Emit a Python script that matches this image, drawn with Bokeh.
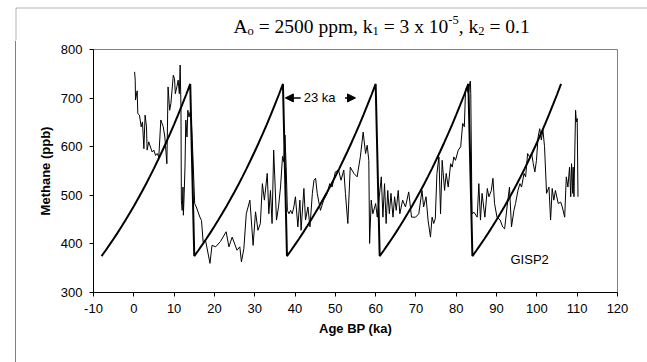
from bokeh.plotting import figure
from bokeh.layouts import column, row
from bokeh.models import Label, Arrow, NormalHead, FixedTicker, PolyAnnotation, Range1d, Span
from bokeh.embed import file_html
from bokeh.resources import INLINE

# GISP2 methane record (age in ka BP, CH4 in ppb)
age = [0.2, 0.35, 0.42, 0.83, 1.0, 1.4, 1.83, 2.15, 2.5, 2.8, 3.15, 3.3, 3.7, 4.55, 4.97,
       5.4, 5.8, 6.2, 6.7, 7.3, 7.7, 8.2, 8.5, 8.9, 9.2, 9.8, 10.1, 10.3, 10.7, 11.0,
       11.3, 11.5, 11.7, 11.8, 12.0, 12.2, 12.3, 12.5, 12.7, 12.9, 13.2, 13.4, 13.7, 14.0,
       14.3, 14.6, 15.1, 15.5, 16.4, 16.8, 17.2, 17.8, 18.9, 19.4, 20.3, 21.5, 22.9, 23.6,
       24.4, 25.6, 26.3, 26.7, 27.3, 27.9, 28.8, 29.6, 30.2, 30.8, 31.4, 31.9, 32.4, 33.1,
       33.5, 33.9, 34.3, 34.7, 35.4, 35.9, 36.4, 36.9, 37.2, 37.5, 37.8, 38.1, 38.5, 38.9,
       39.3, 39.7, 40.1, 40.7, 41.2, 41.5, 42.2, 42.6, 43.2, 43.7, 44.3, 44.7, 45.1, 45.5,
       46.3, 47.1, 48.0, 48.6, 49.2, 50.0, 50.8, 51.4, 52.1, 52.5, 53.1, 53.7, 54.6, 55.4,
       56.2, 56.9, 57.5, 57.9, 58.3, 58.5, 58.9, 59.3, 60.0, 60.4, 60.9, 61.4, 61.8, 62.2,
       62.6, 63.0, 63.4, 63.8, 64.3, 64.7, 65.1, 65.6, 66.0, 66.7, 67.4, 68.2, 68.9, 69.9,
       70.7, 71.5, 71.9, 72.5, 73.0, 73.6, 74.0, 74.4, 74.8, 75.2, 75.7, 76.1, 76.5, 77.1,
       77.5, 78.0, 78.6, 79.0, 79.4, 79.8, 80.5, 81.1, 81.6, 82.0, 82.3, 82.6, 83.0, 83.3,
       83.5, 83.6, 83.9, 84.4, 85.2, 85.6, 86.0, 86.4, 87.1, 87.7, 88.1, 88.7, 89.1, 89.5,
       90.1, 90.9, 91.5, 92.0, 92.6, 93.2, 93.7, 94.3, 94.7, 95.3, 95.8, 96.2, 96.8, 97.2,
       97.7, 98.2, 98.7, 99.1, 99.5, 99.9, 100.3, 100.7, 101.1, 101.5, 101.9, 102.4, 103.0,
       103.4, 103.8, 104.2, 104.6, 105.3, 105.9, 106.3, 106.9, 107.3, 107.7, 108.1, 108.4,
       108.6, 108.9, 109.0, 109.2, 109.6, 109.8, 110.0, 110.2]
methane = [754, 737, 696, 715, 668, 665, 641, 651, 596, 665, 641, 593, 610, 589, 593,
           582, 586, 579, 655, 641, 620, 565, 723, 675, 689, 747, 740, 709, 724, 737,
           709, 768, 682, 490, 469, 517, 459, 504, 558, 655, 620, 675, 661, 672,
           648, 593, 483, 476, 455, 448, 404, 407, 360, 397, 394, 405, 425, 394,
           414, 387, 394, 363, 390, 462, 490, 397, 466, 428, 442, 524, 490, 545,
           462, 510, 442, 593, 449, 476, 517, 580, 569, 624, 559, 469, 462, 469,
           462, 476, 497, 435, 490, 428, 514, 449, 476, 435, 504, 531, 535, 504,
           469, 490, 504, 524, 517, 548, 552, 531, 552, 504, 442, 558, 545, 538,
           579, 630, 586, 603, 572, 401, 490, 462, 483, 455, 497, 538, 455, 524,
           442, 510, 462, 504, 455, 497, 469, 510, 462, 490, 476, 507, 455, 455,
           462, 510, 476, 497, 449, 414, 455, 442, 452, 545, 579, 462, 572, 510,
           545, 517, 565, 558, 579, 572, 593, 600, 648, 641, 716, 723, 709, 730,
           735, 709, 462, 465, 455, 524, 449, 504, 455, 514, 497, 510, 535, 483,
           455, 449, 435, 431, 476, 517, 435, 469, 483, 510, 524, 517, 545, 538,
           586, 579, 586, 565, 548, 572, 620, 637, 614, 634, 600, 504, 517,
           449, 514, 490, 510, 483, 486, 476, 455, 538, 517, 558, 497,
           565, 504, 558, 497, 675, 651, 658, 497]

# Model sawtooth: each cycle rises over 22 ka, then drops back within 1 ka
cycle_starts = [-8, 15, 38, 61, 84]
cycle_t = list(range(0, 23))
cycle_ch4 = [375, 386.5, 398.4, 410.6, 423.2, 436.2, 449.6, 463.4, 477.6, 492.2, 507.4,
             522.9, 539.0, 555.5, 572.6, 590.1, 608.2, 626.9, 646.1, 666.0, 686.4, 707.4,
             729.1]

x_ticks = [-10, 0, 10, 20, 30, 40, 50, 60, 70, 80, 90, 100, 110, 120]
x_tick_labels = ["-10", "0", "10", "20", "30", "40", "50", "60", "70", "80", "90",
                 "100", "110", "120"]
y_ticks = [300, 400, 500, 600, 700, 800]

model_x, model_y = [], []
for s in cycle_starts:
    for t, v in zip(cycle_t, cycle_ch4):
        model_x.append(s + t)
        model_y.append(v)

SANS = "Liberation Sans"
SERIF = "Liberation Serif"


def blank(width, height, xr, yr):
    f = figure(width=width, height=height, x_range=xr, y_range=yr,
               output_backend="svg", toolbar_location=None,
               x_axis_location=None, y_axis_location=None, min_border=0)
    f.outline_line_color = None
    f.grid.visible = False
    f.background_fill_color = "white"
    f.border_fill_color = "white"
    f.frame_align = False
    return f


# ---- title strip (layout units: pixels) ----
TH = 40
T = blank(647, TH, Range1d(0, 647), Range1d(TH, 0))
T.add_layout(PolyAnnotation(xs=[15.5, 15.5, 700, 700], ys=[80, 7.5, 7.5, 80],
                            fill_alpha=0, line_color="black", line_width=1))
W = {'A': 722, 'o': 500, ' ': 250, '=': 564, '0': 500, '1': 500, '2': 500, '3': 500,
     '5': 500, 'p': 500, 'm': 778, ',': 250, 'k': 500, 'x': 500, '-': 333, '.': 250}
BIG, SMALL = 19.5, 12.5
pieces = [("A", BIG, 0), ("o", SMALL, 4), (" = 2500 ppm, k", BIG, 0), ("1", SMALL, 4),
          (" = 3 x 10", BIG, 0), ("-5", SMALL, -7), (", k", BIG, 0), ("2", SMALL, 4),
          (" = 0.1", BIG, 0)]
x0, base = 233.0, 26.0
off = 0.0
for txt, size, dy in pieces:
    lead = len(txt) - len(txt.lstrip(" "))
    off += lead * W[' '] * size / 1000.0
    body = txt.lstrip(" ")
    T.add_layout(Label(x=x0 + off, y=base + dy, text=body,
                       text_align="left", text_baseline="alphabetic",
                       text_font=SERIF, text_font_size=f"{size}px", text_color="black"))
    off += sum(W[c] for c in body) * size / 1000.0

# ---- left strip with the chart-area border ----
MH = 362 - TH
S = blank(16, MH, Range1d(0, 16), Range1d(0, 1))
S.add_layout(Span(location=15.5, dimension="height", line_color="black", line_width=1))

# ---- main chart ----
p = figure(width=631, height=MH, x_range=Range1d(-10, 120), y_range=Range1d(300, 800),
           output_backend="svg", toolbar_location=None,
           min_border_left=77, min_border_right=30, min_border_top=49 - TH,
           min_border_bottom=70)
p.frame_align = False
p.background_fill_color = "white"
p.border_fill_color = "white"
p.outline_line_color = "#808080"
p.outline_line_width = 1
p.xgrid.visible = False
p.ygrid.visible = False

for ax in (p.xaxis[0], p.yaxis[0]):
    ax.axis_line_color = "black"
    ax.major_tick_line_color = "black"
    ax.minor_tick_line_color = None
    ax.major_tick_out = 4
    ax.major_tick_in = 0
    ax.major_label_text_font = SANS
    ax.major_label_text_font_size = "13px"
    ax.major_label_text_color = "black"
    ax.major_label_standoff = 7
    ax.axis_label_text_font = SANS
    ax.axis_label_text_font_size = "13px"
    ax.axis_label_text_font_style = "bold"
    ax.axis_label_text_color = "black"
    ax.axis_label_standoff = 5

p.xaxis[0].ticker = FixedTicker(ticks=x_ticks)
p.xaxis[0].major_label_overrides = {t: s for t, s in zip(x_ticks, x_tick_labels)}
p.yaxis[0].ticker = FixedTicker(ticks=y_ticks)
p.xaxis[0].axis_label = "Age BP (ka)"
p.yaxis[0].axis_label = "Methane (ppb)"

p.line(age, methane, line_color="black", line_width=1)
p.line(model_x, model_y, line_color="black", line_width=2)

p.add_layout(Label(x=46.1, y=700.4, text="23 ka", text_align="center", text_baseline="middle",
                   text_font=SANS, text_font_size="13px", text_color="black"))
p.add_layout(Arrow(x_start=41.4, y_start=700.4, x_end=37.6, y_end=700.4, line_width=1.5,
                   end=NormalHead(size=8, fill_color="black", line_color="black")))
p.add_layout(Arrow(x_start=52.4, y_start=700.4, x_end=55.0, y_end=700.4, line_width=1.5,
                   end=NormalHead(size=8, fill_color="black", line_color="black")))
p.add_layout(Label(x=98.2, y=367.5, text="GISP2", text_align="center", text_baseline="middle",
                   text_font=SANS, text_font_size="13px", text_color="black"))

layout = column(T, row(S, p, spacing=0), spacing=0)
open("out.html", "w").write(file_html(layout, INLINE))
